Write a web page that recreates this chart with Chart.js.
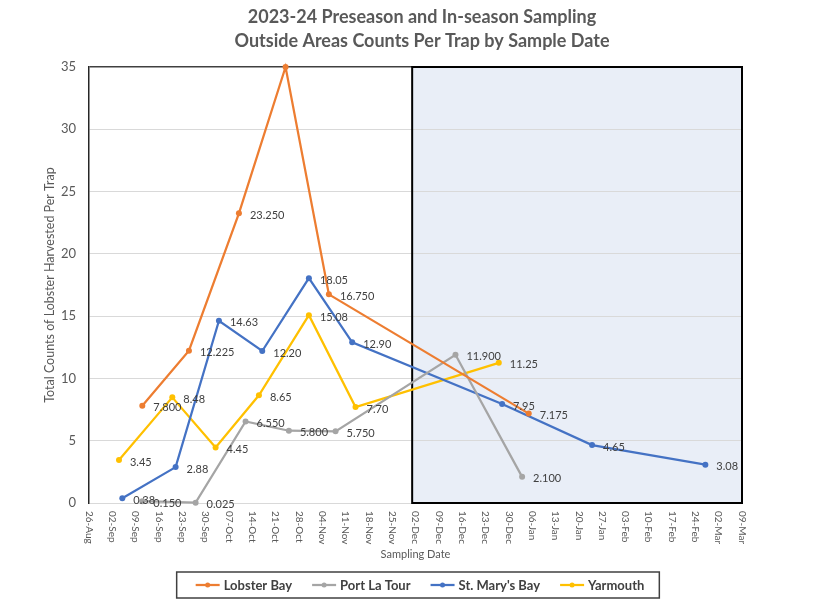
<!DOCTYPE html>
<html>
<head>
<meta charset="utf-8">
<title>2023-24 Preseason and In-season Sampling</title>
<script src="https://cdn.jsdelivr.net/npm/chart.js@4.4.1/dist/chart.umd.min.js"></script>
<style>
  html, body { margin: 0; padding: 0; background: #ffffff; }
  #wrap { width: 834px; height: 604px; position: relative; }
</style>
</head>
<body>
<div id="wrap"><canvas id="lineChart"></canvas></div>
<script>
const titleLines = ["2023-24 Preseason and In-season Sampling", "Outside Areas Counts Per Trap by Sample Date"];
const yTitle = "Total Counts of Lobster Harvested Per Trap";
const xTitle = "Sampling Date";

const axisStart = "2023-08-26";
const axisEnd = "2024-03-09";
const shadeStart = "2023-12-01";

const seriesNames = ["Lobster Bay", "Port La Tour", "St. Mary's Bay", "Yarmouth"];
const seriesColors = ["#ED7D31", "#A5A5A5", "#4472C4", "#FFC000"];
const seriesDecimals = [3, 3, 2, 2];

const lobsterDates = ["2023-09-11", "2023-09-25", "2023-10-10", "2023-10-24", "2023-11-06", "2024-01-05"];
const lobsterValues = [7.8, 12.225, 23.25, 35, 16.75, 7.175];

const portDates = ["2023-09-11", "2023-09-27", "2023-10-12", "2023-10-25", "2023-11-08", "2023-12-14", "2024-01-03"];
const portValues = [0.15, 0.025, 6.55, 5.8, 5.75, 11.9, 2.1];

const stMaryDates = ["2023-09-05", "2023-09-21", "2023-10-04", "2023-10-17", "2023-10-31", "2023-11-13", "2023-12-28", "2024-01-24", "2024-02-27"];
const stMaryValues = [0.38, 2.88, 14.63, 12.2, 18.05, 12.9, 7.95, 4.65, 3.08];

const yarmouthDates = ["2023-09-04", "2023-09-20", "2023-10-03", "2023-10-16", "2023-10-31", "2023-11-14", "2023-12-27"];
const yarmouthValues = [3.45, 8.48, 4.45, 8.65, 15.08, 7.7, 11.25];

const yMax = 35;
const yStep = 5;

const monthNames = ["Jan", "Feb", "Mar", "Apr", "May", "Jun", "Jul", "Aug", "Sep", "Oct", "Nov", "Dec"];
const dayMs = 24 * 3600 * 1000;
const baseTime = Date.parse(axisStart + "T00:00:00Z");

function dayIndex(str) {
  return Math.round((Date.parse(str + "T00:00:00Z") - baseTime) / dayMs);
}

function dayLabel(day) {
  const d = new Date(baseTime + day * dayMs);
  const dd = String(d.getUTCDate()).padStart(2, "0");
  return `${dd}-${monthNames[d.getUTCMonth()]}`;
}

function toPoints(dates, values) {
  return dates.map((date, i) => ({ x: dayIndex(date), y: values[i] }));
}

const allDates = [lobsterDates, portDates, stMaryDates, yarmouthDates];
const allValues = [lobsterValues, portValues, stMaryValues, yarmouthValues];

const FONT = "Lato, 'Open Sans', sans-serif";
const TEXT = "#595959";

const datasets = seriesNames.map((name, s) => ({
  label: name,
  data: toPoints(allDates[s], allValues[s]),
  borderColor: seriesColors[s],
  backgroundColor: seriesColors[s],
  borderWidth: 2.25,
  pointRadius: 3,
  pointHoverRadius: 3,
  pointBorderWidth: 0,
  tension: 0,
  fill: false,
  clip: false,
}));

const drawExtras = {
  id: "drawExtras",
  beforeDraw(chart) {
    const { ctx } = chart;
    const xs = chart.scales.x;
    const ys = chart.scales.y;
    const left = xs.getPixelForValue(dayIndex(shadeStart));
    const right = xs.getPixelForValue(dayIndex(axisEnd));
    ctx.save();
    ctx.fillStyle = "#E9EEF7";
    ctx.fillRect(left, ys.getPixelForValue(yMax), right - left, ys.getPixelForValue(0) - ys.getPixelForValue(yMax));
    ctx.restore();
  },
  beforeDatasetsDraw(chart) {
    const { ctx } = chart;
    const xs = chart.scales.x;
    const ys = chart.scales.y;
    const left = xs.getPixelForValue(dayIndex(shadeStart));
    const right = xs.getPixelForValue(dayIndex(axisEnd));
    const top = ys.getPixelForValue(yMax);
    const bottom = ys.getPixelForValue(0);
    ctx.save();
    ctx.strokeStyle = "#000000";
    ctx.lineWidth = 2;
    ctx.strokeRect(left, top, right - left, bottom - top);
    ctx.restore();
  },
  afterDatasetsDraw(chart) {
    const { ctx } = chart;
    ctx.save();
    ctx.font = `11px ${FONT}`;
    ctx.fillStyle = "#404040";
    ctx.textAlign = "left";
    ctx.textBaseline = "middle";
    chart.data.datasets.forEach((ds, s) => {
      const meta = chart.getDatasetMeta(s);
      meta.data.forEach((pt, i) => {
        const v = ds.data[i].y;
        if (v >= yMax) return;
        ctx.fillText(v.toFixed(seriesDecimals[s]), pt.x + 11, pt.y + 2);
      });
    });
    ctx.restore();
  },
  afterDraw(chart) {
    const { ctx, chartArea } = chart;
    const xs = chart.scales.x;
    ctx.save();

    // title
    ctx.fillStyle = TEXT;
    ctx.font = `bold 18px ${FONT}`;
    ctx.textAlign = "center";
    ctx.textBaseline = "middle";
    titleLines.forEach((line, i) => ctx.fillText(line, 422, 17 + i * 24));

    // x tick labels, rotated clockwise
    ctx.font = `10px ${FONT}`;
    ctx.textAlign = "left";
    xs.ticks.forEach((tick) => {
      const x = xs.getPixelForValue(tick.value);
      ctx.save();
      ctx.translate(x, chartArea.bottom + 8);
      ctx.rotate(Math.PI / 2);
      ctx.fillText(dayLabel(tick.value), 0, 0);
      ctx.restore();
    });

    // axis titles
    ctx.font = `11px ${FONT}`;
    ctx.textAlign = "center";
    ctx.fillText(xTitle, (chartArea.left + chartArea.right) / 2, 554);
    ctx.save();
    ctx.font = `12.5px ${FONT}`;
    ctx.translate(50, (chartArea.top + chartArea.bottom) / 2);
    ctx.rotate(-Math.PI / 2);
    ctx.fillText(yTitle, 0, 0);
    ctx.restore();

    // legend
    ctx.font = `bold 13px ${FONT}`;
    ctx.textAlign = "left";
    const markW = 24;
    const gapText = 4;
    const gapItem = 20;
    const widths = seriesNames.map((n) => markW + gapText + ctx.measureText(n).width);
    const total = widths.reduce((a, w) => a + w, 0) + gapItem * (widths.length - 1);
    let x = 420 - total / 2;
    const ly = 585;
    const boxLeft = x - 19;
    seriesNames.forEach((name, s) => {
      ctx.strokeStyle = seriesColors[s];
      ctx.fillStyle = seriesColors[s];
      ctx.lineWidth = 2.25;
      ctx.beginPath();
      ctx.moveTo(x, ly);
      ctx.lineTo(x + markW, ly);
      ctx.stroke();
      ctx.beginPath();
      ctx.arc(x + markW / 2, ly, 2.5, 0, Math.PI * 2);
      ctx.fill();
      ctx.fillStyle = "#404040";
      ctx.fillText(name, x + markW + gapText, ly + 1);
      x += widths[s] + gapItem;
    });
    const boxRight = x - gapItem + 15;
    ctx.strokeStyle = "#404040";
    ctx.lineWidth = 1.5;
    ctx.strokeRect(boxLeft, 572, boxRight - boxLeft, 26);

    ctx.restore();
  },
};

new Chart(document.getElementById("lineChart").getContext("2d"), {
  type: "line",
  data: { datasets: datasets },
  options: {
    responsive: true,
    maintainAspectRatio: false,
    animation: false,
    events: [],
    layout: { padding: { top: 67, right: 92, bottom: 0, left: 0 } },
    plugins: {
      legend: { display: false },
      title: { display: false },
      tooltip: { enabled: false },
    },
    scales: {
      x: {
        type: "linear",
        min: 0,
        max: dayIndex(axisEnd),
        ticks: { stepSize: 7, display: false },
        grid: { display: false },
        border: { display: false },
        afterFit: (scale) => { scale.height = 101; },
      },
      y: {
        min: 0,
        max: yMax,
        ticks: {
          stepSize: yStep,
          padding: 13,
          color: TEXT,
          font: { family: FONT, size: 13 },
        },
        grid: {
          drawTicks: false,
          color: (c) => (c.tick && c.tick.value === yMax ? "#404040" : "#D9D9D9"),
          lineWidth: (c) => (c.tick && c.tick.value === yMax ? 1.5 : 1),
        },
        border: { color: "#262626", width: 1.5 },
        afterFit: (scale) => { scale.width = 89; },
      },
    },
  },
  plugins: [drawExtras],
});
</script>
</body>
</html>
